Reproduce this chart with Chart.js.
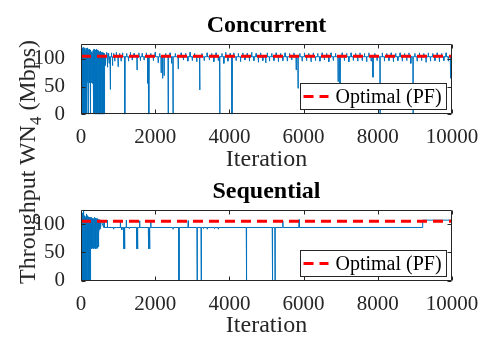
<!DOCTYPE html>
<html>
<head>
<meta charset="utf-8">
<script src="https://cdn.jsdelivr.net/npm/chart.js@4.4.0/dist/chart.umd.min.js"></script>
<style>
	body { margin: 0; background: #fff; }
	#wrap { position: relative; width: 500px; height: 350px; background: #fff; }
	.pane { position: absolute; left: 0; width: 500px; height: 175px; }
	#ylab { position: absolute; left: 27px; top: 162px; transform: translate(-50%, -50%) rotate(-90deg); white-space: nowrap; font: 24px 'Liberation Serif', serif; color: #262626; line-height: 24px; }
	#ylab sub { font-size: 17px; vertical-align: -6px; line-height: 0; }
</style>
</head>
<body>
<div id="wrap">
	<div class="pane" style="top:0"><canvas id="conc" width="500" height="175"></canvas></div>
	<div class="pane" style="top:175px"><canvas id="seq" width="500" height="175"></canvas></div>
	<div id="ylab">Throughput WN<sub>4</sub> (Mbps)</div>
</div>
<script>
var xTicks = [0, 2000, 4000, 6000, 8000, 10000];
var yTicks = [0, 50, 100];
var optimalPF = 105;
var earlyStep = 5;

// concurrent: dense start (every 5 iterations), then a flat level with spikes
var concBase = 104;
var concEarly = [0,122,0,118,3,124,0,115,0,120,8,118,0,112,0,121,0,117,0,114,5,120,0,115,0,110,0,119,2,113,0,
	116,57,118,62,111,58,120,0,114,56,117,60,112,58,118,64,113,57,116,60,110,0,115,59,112,62,108,57,113,61,108,70,111,56,115,60,112,
	0,117,5,113,0,118,40,112,0,116,0,110,20,115,0,112,0,118,0,113,45,116,0,110,0,115,0,112,30,108,0,113,0,108,0,111,60,114,0,110,0,112,0,108,50,110,0,112,0,109,0,111,70,108,0,110,85,108,0,110,90,108,95];
var concSpikeIter = [660,690,710,730,760,790,820,850,880,910,950,1000,1040,1080,1120,1180,1230,1280,1330,1380,1430,1510,1560,1600,1650,1700,1760,1800,1830,1880,1950,2000,2080,2120,2160,2200,2240,2280,2350,2400,2440,2480,2540,2620,2700,2760,2820,2880,2940,3000,3060,3120,3200,3260,3320,3400,3460,3520,3580,3640,3700,3740,3800,3850,3900,3960,4020,4070,4120,4180,4240,4300,4360,4420,4480,4540,4600,4660,4720,4780,4840,4900,4980,5020,5080,5140,5200,5260,5320,5380,5440,5500,5560,5620,5680,5740,5800,5850,5900,5960,6020,6080,6140,6200,6260,6320,6380,6440,6500,6560,6620,6680,6740,6800,6860,6930,6980,7040,7100,7160,7220,7280,7340,7400,7460,7520,7580,7640,7700,7760,7820,7870,7920,7980,8060,8120,8180,8240,8300,8360,8420,8480,8540,8600,8660,8720,8780,8840,8890,8950,9000,9060,9120,9180,9240,9300,9360,9420,9480,9540,9600,9660,9720,9780,9840,9900,9960];
var concSpikeVal = [88,112,85,110,92,45,111,88,110,96,112,86,110,96,111,0,110,96,112,98,110,80,111,97,110,98,111,56,0,110,97,112,93,110,75,65,70,110,0,111,92,0,110,82,111,98,110,96,112,97,110,95,44,110,97,111,98,110,95,111,97,0,110,92,112,96,110,0,111,97,110,95,111,98,110,96,112,97,110,94,111,97,93,111,96,110,97,111,95,110,97,111,96,110,98,111,80,47,110,96,111,97,110,95,111,97,110,96,111,98,110,95,111,97,110,59,56,111,97,110,95,111,97,110,96,111,97,110,95,111,96,67,110,97,0,111,96,110,97,111,95,110,97,111,96,110,97,111,92,0,110,96,111,97,110,94,111,96,110,97,111,95,110,97,111,96,65];

// sequential: dense start, settles near 94 with a few drops, steps up near the end
var seqBase = 94;
var seqEarly = [100,0,118,60,112,0,115,40,110,0,120,55,108,0,125,50,112,0,115,58,110,0,113,30,108,0,112,20,110,0,118,45,108,0,115,0,112,50,110,0,113,0,108,35,112,0,110,56,108,0,112,
	57,110,60,108,56,112,62,106,58,110,70,108,57,105,66,110,56,104,60,108,58,112,57,106,62,110,56,108,64,105,57,110,60,104,58,108,75,106,57,110,62,105,80,108,60,104,85,106,
	92,108,90,105,94,107,92,104,95,106];
var seqSpikeIter = [620,710,880,960,1060,1100,1150,1175,1220,1300,1500,1525,1580,1820,1850,1880,2480,2640,2890,3130,3240,3300,3400,3500,3600,3700,4460,5160,5230,5440,5880];
var seqSpikeVal = [107,107,91,93,107,90,56,56,107,92,56,56,106,56,56,106,91,0,106,0,0,92,91,93,92,91,0,0,0,106,108];
var seqStepIter = 9210;
var seqStepVal = 107;

function buildPoints(early, base, spikeIter, spikeVal) {
	var pts = [];
	for (var i = 0; i < early.length; i++) pts.push({x: i * earlyStep, y: early[i]});
	for (var j = 0; j < spikeIter.length; j++) {
		pts.push({x: spikeIter[j] - 6, y: base});
		pts.push({x: spikeIter[j], y: spikeVal[j]});
		pts.push({x: spikeIter[j] + 6, y: base});
	}
	return pts;
}

var concPoints = buildPoints(concEarly, concBase, concSpikeIter, concSpikeVal);
concPoints.push({x: 10000, y: concBase});

var seqPoints = buildPoints(seqEarly, seqBase, seqSpikeIter, seqSpikeVal);
seqPoints.push({x: seqStepIter, y: seqBase});
seqPoints.push({x: seqStepIter, y: seqStepVal});
seqPoints.push({x: 10000, y: seqStepVal});

var axisColor = '#262626';
var serif = 'Liberation Serif';

// axes box with inward ticks, title centred over the axes
var frame = {
	id: 'frame',
	afterDatasetsDraw: function(chart) {
		var a = chart.chartArea, ctx = chart.ctx;
		var xs = chart.scales.x, ys = chart.scales.y;
		var l = Math.round(a.left) + 0.5, r = Math.round(a.right) - 0.5;
		var t = Math.round(a.top) + 0.5, b = Math.round(a.bottom) - 0.5;
		ctx.save();
		ctx.strokeStyle = axisColor;
		ctx.lineWidth = 1;
		ctx.beginPath();
		xTicks.forEach(function(v) {
			var px = Math.round(xs.getPixelForValue(v)) + 0.5;
			ctx.moveTo(px, b); ctx.lineTo(px, b - 4);
			ctx.moveTo(px, t); ctx.lineTo(px, t + 4);
		});
		yTicks.forEach(function(v) {
			var py = Math.round(ys.getPixelForValue(v)) + 0.5;
			ctx.moveTo(l, py); ctx.lineTo(l + 4, py);
			ctx.moveTo(r, py); ctx.lineTo(r - 4, py);
		});
		ctx.rect(l, t, r - l, b - t);
		ctx.stroke();
		ctx.fillStyle = '#000';
		ctx.font = 'bold 24px ' + serif;
		ctx.textAlign = 'center';
		ctx.textBaseline = 'alphabetic';
		ctx.fillText(chart.options.plugins.title.text, (a.left + a.right) / 2, a.top - 12.3);
		ctx.restore();
	}
};

var legendBox = {
	id: 'legendBox',
	afterDraw: function(chart) {
		var a = chart.chartArea, ctx = chart.ctx;
		var ds = chart.data.datasets[0];
		var w = 146, h = 26;
		var x = Math.round(a.right - 6 - w) + 0.5, y = Math.round(a.bottom - 5 - h) + 0.5;
		ctx.save();
		ctx.fillStyle = '#fff';
		ctx.fillRect(x, y, w, h);
		ctx.strokeStyle = axisColor;
		ctx.lineWidth = 1;
		ctx.strokeRect(x, y, w, h);
		ctx.strokeStyle = ds.borderColor;
		ctx.lineWidth = ds.borderWidth;
		ctx.setLineDash(ds.borderDash);
		ctx.beginPath();
		ctx.moveTo(x + 3, y + h / 2);
		ctx.lineTo(x + 28, y + h / 2);
		ctx.stroke();
		ctx.fillStyle = '#000';
		ctx.font = '20px ' + serif;
		ctx.textBaseline = 'middle';
		ctx.fillText(ds.label, x + 35, y + h / 2 + 1);
		ctx.restore();
	}
};

function makeChart(id, title, ymax, points, padTop, padBottom) {
	return new Chart(document.getElementById(id), {
		type: 'line',
		data: {
			datasets: [
				{
					label: 'Optimal (PF)',
					data: [{x: 0, y: optimalPF}, {x: 10000, y: optimalPF}],
					borderColor: '#ff0000',
					borderWidth: 3,
					borderDash: [10, 6],
					pointRadius: 0
				},
				{
					label: title,
					data: points,
					borderColor: '#0072bd',
					borderWidth: 1,
					pointRadius: 0,
					tension: 0
				}
			]
		},
		options: {
			responsive: false,
			animation: false,
			events: [],
			layout: { padding: { left: 0, right: 48, top: padTop, bottom: padBottom } },
			plugins: {
				legend: { display: false },
				tooltip: { enabled: false },
				title: { display: false, text: title }
			},
			scales: {
				x: {
					type: 'linear',
					min: 0,
					max: 10000,
					afterBuildTicks: function(s) { s.ticks = xTicks.map(function(v) { return {value: v}; }); },
					afterFit: function(s) { s.height = 60.7; },
					grid: { display: false },
					border: { display: false },
					ticks: { color: axisColor, font: { family: serif, size: 21 }, padding: 3, maxRotation: 0, autoSkip: false, callback: function(v) { return String(v); } },
					title: { display: true, text: 'Iteration', color: axisColor, font: { family: serif, size: 24 }, padding: { top: 0, bottom: 0.7 } }
				},
				y: {
					min: 0,
					max: ymax,
					afterBuildTicks: function(s) { s.ticks = yTicks.map(function(v) { return {value: v}; }); },
					afterFit: function(s) { s.width = 81; },
					grid: { display: false },
					border: { display: false },
					ticks: { color: axisColor, font: { family: serif, size: 21 }, padding: 8, callback: function(v) { return String(v); } }
				}
			}
		},
		plugins: [frame, legendBox]
	});
}

makeChart('conc', 'Concurrent', 127, concPoints, 44, 0);
makeChart('seq', 'Sequential', 125, seqPoints, 35, 8.8);
</script>
</body>
</html>
